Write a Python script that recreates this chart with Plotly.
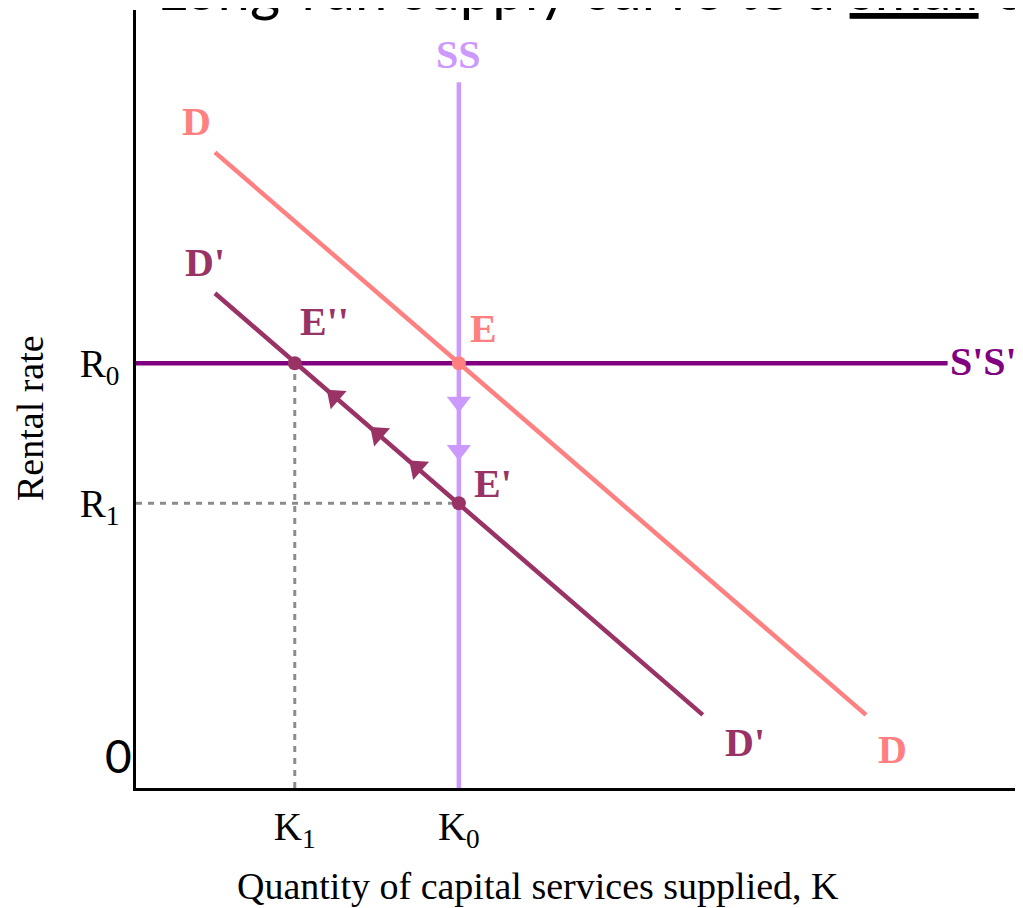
import plotly.graph_objects as go

# ---------------- data (chart units: x 0-100, y 0-100) ----------------
K_ticks = [17.9, 36.4]
K_labels = ["K<sub>1</sub>", "K<sub>0</sub>"]
R_ticks = [36.6, 54.6]
R_labels = ["R<sub>1</sub>", "R<sub>0</sub>"]

D_x = [8.9, 82.3]
D_y = [81.7, 9.4]
D2_x = [8.9, 63.9]
D2_y = [63.6, 9.4]
SS_x = [36.4, 36.4]
SS_y = [0, 90.7]
SpSp_x = [0, 91.5]
SpSp_y = [54.6, 54.6]

eq_x = [36.4, 17.9, 36.4]
eq_y = [54.6, 54.6, 36.6]

arrow_d2_x = [22.4, 27.3, 31.7]
arrow_d2_y = [50.3, 45.5, 41.2]
arrow_ss_x = [36.4, 36.4]
arrow_ss_y = [49.6, 43.4]

label_text = ["SS", "D", "D'", "E''", "E", "E'", "S'S'", "D'", "D"]
label_x = [36.4, 6.8, 7.8, 21.3, 39.2, 40.2, 95.6, 68.7, 85.3]
label_y = [94.3, 85.7, 67.6, 59.9, 59.1, 39.2, 54.8, 5.9, 4.9]

# ---------------- styles ----------------
C_SS = "#CC99FF"
C_D = "#FF8080"
C_D2 = "#993366"
C_SPSP = "#800080"
C_DOT = "#8C8C8C"
label_colors = [C_SS, C_D, C_D2, C_D2, C_D, C_D2, C_SPSP, C_D2, C_D]

SERIF = "Liberation Serif, Times New Roman, serif"
SANS = "Lato, Open Sans, sans-serif"

fig = go.Figure()

# guide dotted lines
fig.add_trace(go.Scatter(x=[K_ticks[0], K_ticks[0]], y=[0, R_ticks[1]], mode="lines",
                         line=dict(color=C_DOT, width=3, dash="6px,6px"), hoverinfo="skip"))
fig.add_trace(go.Scatter(x=[0, K_ticks[1]], y=[R_ticks[0], R_ticks[0]], mode="lines",
                         line=dict(color=C_DOT, width=3, dash="6px,6px"), hoverinfo="skip"))

# curves
fig.add_trace(go.Scatter(x=SpSp_x, y=SpSp_y, mode="lines", line=dict(color=C_SPSP, width=4.5), hoverinfo="skip"))
fig.add_trace(go.Scatter(x=SS_x, y=SS_y, mode="lines", line=dict(color=C_SS, width=4.5), hoverinfo="skip"))
fig.add_trace(go.Scatter(x=D_x, y=D_y, mode="lines", line=dict(color=C_D, width=4.5), hoverinfo="skip"))
fig.add_trace(go.Scatter(x=D2_x, y=D2_y, mode="lines", line=dict(color=C_D2, width=4.5), hoverinfo="skip"))

# arrows
fig.add_trace(go.Scatter(x=arrow_ss_x, y=arrow_ss_y, mode="markers",
                         marker=dict(symbol="triangle-down", size=21, color=C_SS), hoverinfo="skip"))
fig.add_trace(go.Scatter(x=arrow_d2_x, y=arrow_d2_y, mode="markers",
                         marker=dict(symbol="triangle-up", size=21, color=C_D2, angle=-49), hoverinfo="skip"))

# equilibrium points
fig.add_trace(go.Scatter(x=eq_x, y=eq_y, mode="markers",
                         marker=dict(size=14, color=[C_D, C_D2, C_D2]), hoverinfo="skip"))

annotations = []
for t, x, y, c in zip(label_text, label_x, label_y, label_colors):
    annotations.append(dict(x=x, y=y, xref="x", yref="y", text="<b>%s</b>" % t, showarrow=False,
                            font=dict(family=SERIF, size=40, color=c), xanchor="center", yanchor="middle"))

# origin label
annotations.append(dict(x=-0.0197, y=0.0424, xref="paper", yref="paper", text="0", showarrow=False,
                        font=dict(family=SANS, size=46, color="black"), xanchor="center", yanchor="middle"))
# axis titles
annotations.append(dict(x=-0.1195, y=0.4756, xref="paper", yref="paper", text="Rental rate", textangle=-90,
                        showarrow=False, font=dict(family=SERIF, size=38, color="black"),
                        xanchor="center", yanchor="middle"))
annotations.append(dict(x=0.4532, y=-0.126, xref="paper", yref="paper",
                        text="Quantity of capital services supplied, K", showarrow=False,
                        font=dict(family=SERIF, size=38, color="black"), xanchor="center", yanchor="middle"))
# cut-off slide title
annotations.append(dict(x=0.0214, y=0.982, xref="paper", yref="paper",
                        text="Long-run supply curve to a <u>small</u> open economy", showarrow=False,
                        font=dict(family=SANS, size=58, color="black"), xanchor="left", yanchor="bottom"))

# page body has an 8px margin: size the figure so the plot area lands at x 136-1023, y 10-788
fig.update_layout(
    width=1015, height=900,
    margin=dict(l=128, r=0, t=2, b=120),
    paper_bgcolor="white", plot_bgcolor="white",
    showlegend=False,
    annotations=annotations,
    xaxis=dict(range=[0, 100], showgrid=False, zeroline=False, showline=True, linecolor="black", linewidth=2.5,
               tickvals=K_ticks, ticktext=K_labels, ticks="",
               tickfont=dict(family=SERIF, size=39, color="black"), ticklabelstandoff=2),
    yaxis=dict(range=[0, 100], showgrid=False, zeroline=False, showline=True, linecolor="black", linewidth=2.5,
               tickvals=R_ticks, ticktext=R_labels, ticks="",
               tickfont=dict(family=SERIF, size=39, color="black"), ticklabelstandoff=6),
)

fig.write_html("out.html", config={"displayModeBar": False})
